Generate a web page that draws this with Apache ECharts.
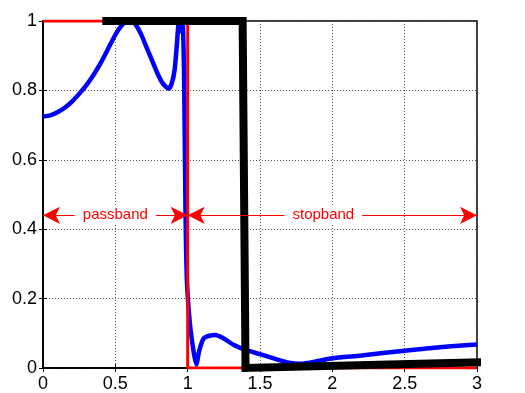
<!DOCTYPE html>
<html>
<head>
<meta charset="utf-8">
<script src="https://cdn.jsdelivr.net/npm/echarts@6/dist/echarts.min.js"></script>
<style>
html, body { margin: 0; padding: 0; background: #fff; }
#main { width: 525px; height: 393px; }
</style>
</head>
<body>
<div id="main"></div>
<script>
// 实际滤波器响应 (蓝线)
var respX = [0, 0.05, 0.1, 0.15, 0.2, 0.25, 0.3, 0.35, 0.4, 0.45, 0.5, 0.55, 0.6, 0.64, 0.68, 0.72, 0.76, 0.79, 0.82, 0.85, 0.87, 0.89, 0.91, 0.925, 0.935, 0.945, 0.955, 0.965, 0.975, 0.985, 0.995, 1.015, 1.04, 1.06, 1.08, 1.11, 1.15, 1.19, 1.25, 1.32, 1.4, 1.5, 1.6, 1.7, 1.78, 1.9, 2.0, 2.2, 2.5, 2.8, 3.0];
var respY = [0.725, 0.728, 0.737, 0.75, 0.768, 0.79, 0.815, 0.845, 0.88, 0.92, 0.96, 0.99, 1.0, 0.99, 0.96, 0.92, 0.88, 0.85, 0.825, 0.81, 0.805, 0.82, 0.86, 0.93, 0.985, 1.0, 0.97, 1.0, 0.85, 0.45, 0.25, 0.13, 0.05, 0.01, 0.05, 0.085, 0.093, 0.095, 0.085, 0.066, 0.052, 0.04, 0.027, 0.015, 0.012, 0.02, 0.028, 0.036, 0.05, 0.062, 0.068];

// 理想滤波器 (红线)
var idealX = [0, 1, 1, 3];
var idealY = [1, 1, 0, 0];

// 容差边界 (黑粗线)
var boundX = [0.41, 1.38, 1.40, 3.33];
var boundY = [1, 1, 0, 0.02];

// 标注
var bandY = 0.44;
var passEdge = [0, 1];
var stopEdge = [1, 3];
var bandNames = ['passband', 'stopband'];

function pairs(xs, ys) {
    var out = [];
    for (var i = 0; i < xs.length; i++) {
        out.push([xs[i], ys[i]]);
    }
    return out;
}

var fontName = 'Liberation Sans, Arial, sans-serif';
var gridLine = { show: true, lineStyle: { color: '#555', type: [1, 2], width: 1 } };
var arrowLine = { color: '#ff0000', width: 1.2, type: 'solid' };

var option = {
    animation: false,
    backgroundColor: '#fff',
    grid: { left: 43, right: 48, top: 21, bottom: 23, show: true, borderColor: '#000', borderWidth: 1.5, backgroundColor: 'transparent' },
    xAxis: [
        {
            type: 'value', min: 0, max: 3, interval: 0.5,
            axisLine: { show: true, onZero: false, lineStyle: { color: '#000', width: 1.5 } },
            axisTick: { show: true, inside: true, length: 4, lineStyle: { color: '#000' } },
            axisLabel: { show: true, margin: 7, color: '#000', fontSize: 18, fontFamily: fontName, formatter: function (v) { return String(v); } },
            splitLine: gridLine
        },
        {
            type: 'value', position: 'top', min: 0, max: 3, interval: 0.5,
            axisLine: { show: true, lineStyle: { color: '#000', width: 1.5 } },
            axisTick: { show: true, inside: true, length: 4, lineStyle: { color: '#000' } },
            axisLabel: { show: false },
            splitLine: { show: false }
        }
    ],
    yAxis: [
        {
            type: 'value', min: 0, max: 1, interval: 0.2,
            axisLine: { show: true, onZero: false, lineStyle: { color: '#000', width: 1.5 } },
            axisTick: { show: true, inside: true, length: 4, lineStyle: { color: '#000' } },
            axisLabel: { show: true, margin: 6, color: '#000', fontSize: 18, fontFamily: fontName, formatter: function (v) { return String(Math.round(v * 10) / 10); } },
            splitLine: gridLine
        },
        {
            type: 'value', position: 'right', min: 0, max: 1, interval: 0.2,
            axisLine: { show: true, lineStyle: { color: '#000', width: 1.5 } },
            axisTick: { show: true, inside: true, length: 4, lineStyle: { color: '#000' } },
            axisLabel: { show: false },
            splitLine: { show: false }
        }
    ],
    series: [
        {
            name: 'response', type: 'line', data: pairs(respX, respY),
            showSymbol: false, smooth: 0.2,
            lineStyle: { color: '#0000ff', width: 4.5 }, z: 2
        },
        {
            name: 'ideal', type: 'line', data: pairs(idealX, idealY),
            showSymbol: false,
            lineStyle: { color: '#ff0000', width: 3 }, z: 3,
            markLine: {
                silent: true, animation: false,
                symbol: ['arrow', 'arrow'], symbolSize: [13, 17],
                itemStyle: { color: '#ff0000' },
                lineStyle: arrowLine,
                label: {
                    show: true, position: 'middle', distance: 0, verticalAlign: 'middle',
                    color: '#ff0000', fontSize: 15, fontFamily: fontName,
                    backgroundColor: '#fff', padding: [2, 8],
                    formatter: function (p) { return p.name; }
                },
                data: [
                    [{ name: bandNames[0], coord: [passEdge[0], bandY], lineStyle: arrowLine }, { coord: [passEdge[1], bandY] }],
                    [{ name: bandNames[1], coord: [stopEdge[0], bandY], lineStyle: arrowLine, label: { offset: [-9, 0] } }, { coord: [stopEdge[1], bandY] }]
                ]
            }
        },
        {
            name: 'bound', type: 'line', data: pairs(boundX, boundY),
            showSymbol: false, clip: false,
            lineStyle: { color: '#000', width: 8, join: 'miter' }, z: 4
        }
    ]
};

var chart = echarts.init(document.getElementById('main'));
chart.setOption(option);
</script>
</body>
</html>
